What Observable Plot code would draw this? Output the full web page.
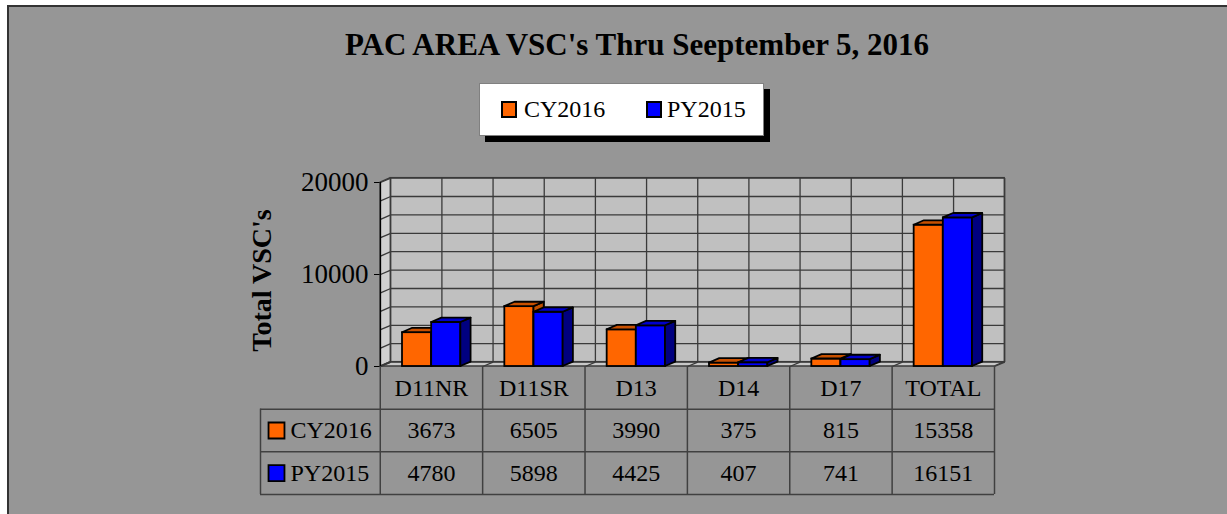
<!DOCTYPE html>
<html><head><meta charset="utf-8">
<script src="https://cdn.jsdelivr.net/npm/d3@7"></script>
<script src="https://cdn.jsdelivr.net/npm/@observablehq/plot@0.6"></script>
<style>
body{margin:0;background:#fff;width:1227px;height:514px;overflow:hidden;position:relative;font-family:"Liberation Serif","Times New Roman",serif}
#bg{position:absolute;left:7px;top:5px;width:1220px;height:509px;background:#969696;border-top:2px solid #333;border-left:2px solid #333;box-sizing:border-box}
#title{position:absolute;top:29px;left:637px;transform:translateX(-50%);white-space:nowrap;font-weight:bold;font-size:31px;line-height:31px;color:#000}
#legend{position:absolute;left:479px;top:83px;width:285px;height:53px;background:#fff;border:1px solid #808080;box-sizing:border-box;box-shadow:6px 6px 0 #000}
.sw{position:absolute;width:16px;height:17px;border:2px solid #000;box-sizing:border-box}
.lt{position:absolute;font-size:24px;line-height:24px;white-space:nowrap;color:#000}
svg{position:absolute;left:0}
</style></head><body>
<div id="bg"></div>
<div id="title"></div>
<div id="legend"></div>
<script>
const titleText = "PAC AREA VSC's Thru Seeptember 5, 2016";
const yAxisTitle = "Total VSC's";
const categories = ["D11NR", "D11SR", "D13", "D14", "D17", "TOTAL"];
const cy2016 = [3673, 6505, 3990, 375, 815, 15358];
const py2015 = [4780, 5898, 4425, 407, 741, 16151];
const seriesNames = ["CY2016", "PY2015"];
const seriesValues = [cy2016, py2015];
const yTicks = [0, 10000, 20000];
const yMax = 20000;
const gridStep = 2000;

// styles
const front = ["#ff6600", "#0000ff"];
const topC = ["#c85000", "#0000cc"];
const sideC = ["#c05000", "#000080"];
const DX = 0.1, DY = 480, GAP = 0.215, BW = 0.285, LABEL_COL = 1.17;
const n = categories.length;
const font = "'Liberation Serif', 'Times New Roman', serif";

document.getElementById("title").textContent = titleText;
const lg = document.getElementById("legend");
const swLeft = [21, 166], txLeft = [44, 187];
seriesNames.forEach((name, s) => {
  const sw = document.createElement("div");
  sw.className = "sw"; sw.style.left = swLeft[s] + "px"; sw.style.top = "17px"; sw.style.background = front[s];
  lg.appendChild(sw);
  const t = document.createElement("div");
  t.className = "lt"; t.style.left = txLeft[s] + "px"; t.style.top = "13px"; t.textContent = name;
  lg.appendChild(t);
});

const bars = [];
categories.forEach((c, i) => {
  seriesValues.forEach((vals, s) => {
    const x1 = i + GAP + s * BW;
    bars.push({id: c + "-" + s, s, v: vals[i], x1, x2: x1 + BW, y0: 0});
  });
});
const tops = bars.flatMap(b => [
  {id: b.id, s: b.s, y: b.v, x1: b.x1, x2: b.x2},
  {id: b.id, s: b.s, y: b.v + DY, x1: b.x1 + DX, x2: b.x2 + DX}]);
const sides = bars.flatMap(b => [
  {id: b.id, s: b.s, x: b.x2, y1: 0, y2: b.v},
  {id: b.id, s: b.s, x: b.x2 + DX, y1: DY, y2: b.v + DY}]);

const gridVals = d3.range(0, yMax + 1, gridStep);
const halfSteps = d3.range(0, n + 0.01, 0.5);
const wholeSteps = d3.range(0, n + 1);
const gridStyle = {stroke: "#3a3a3a", strokeWidth: 1.3};

const barMarks = [];
seriesNames.forEach((name, s) => {
  const sw = {stroke: "#000", strokeWidth: 1.8};
  barMarks.push(
    Plot.rect(bars.filter(b => b.s === s), {x1: "x1", x2: "x2", y1: "y0", y2: "v", fill: front[s], ...sw}),
    Plot.areaY(sides.filter(d => d.s === s), {x: "x", y1: "y1", y2: "y2", z: "id", fill: sideC[s], ...sw}),
    Plot.areaX(tops.filter(d => d.s === s), {y: "y", x1: "x1", x2: "x2", z: "id", fill: topC[s], ...sw})
  );
});

const chart = Plot.plot({
  width: 1227, height: 240,
  marginTop: 32, marginBottom: 24, marginLeft: 380, marginRight: 233,
  x: {domain: [0, n], axis: null},
  y: {domain: [0, yMax], ticks: yTicks, tickFormat: d3.format("d"), tickSize: 6, tickPadding: 6, label: null},
  style: {background: "transparent", color: "#000", fontFamily: font, fontSize: "27px", overflow: "visible"},
  marks: [
    Plot.rect([{x1: DX, x2: n + DX, y1: DY, y2: yMax + DY}], {x1: "x1", x2: "x2", y1: "y1", y2: "y2", fill: "#c0c0c0", ...gridStyle}),
    Plot.areaY([{x: 0, y1: 0, y2: yMax}, {x: DX, y1: DY, y2: yMax + DY}], {x: "x", y1: "y1", y2: "y2", fill: "#d0d0d0", ...gridStyle}),
    Plot.areaX([{y: 0, x1: 0, x2: n}, {y: DY, x1: DX, x2: n + DX}], {y: "y", x1: "x1", x2: "x2", fill: "#c8c8c8", ...gridStyle}),
    Plot.link(gridVals, {x1: () => DX, y1: d => d + DY, x2: () => n + DX, y2: d => d + DY, ...gridStyle}),
    Plot.link(gridVals, {x1: () => 0, y1: d => d, x2: () => DX, y2: d => d + DY, ...gridStyle}),
    Plot.link(halfSteps, {x1: d => d + DX, y1: () => DY, x2: d => d + DX, y2: () => yMax + DY, ...gridStyle}),
    Plot.link(wholeSteps, {x1: d => d, y1: () => 0, x2: d => d + DX, y2: () => DY, ...gridStyle}),
    Plot.ruleX([0], {y1: () => 0, y2: () => yMax, stroke: "#000", strokeWidth: 1.3}),
    ...barMarks,
    Plot.text([yAxisTitle], {text: d => d, frameAnchor: "left", textAnchor: "middle", dx: -118, dy: 6, rotate: -90, fontWeight: "bold", fontSize: 28, fill: "#000"})
  ]
});
chart.style.top = "150px";
document.body.appendChild(chart);

const lineStyle = {stroke: "#404040", strokeWidth: 1.5};
const tableMarks = [
  Plot.ruleX(wholeSteps, {y1: () => 0, y2: () => 3, ...lineStyle}),
  Plot.ruleX([-LABEL_COL], {y1: () => 1, y2: () => 3, ...lineStyle}),
  Plot.ruleY([1, 2, 3], {x1: () => -LABEL_COL, x2: () => n, ...lineStyle}),
  Plot.text(categories, {x: (d, i) => i + 0.5, y: () => 0.5, text: d => d, fontSize: 24, fill: "#000"})
];
seriesNames.forEach((name, s) => {
  tableMarks.push(
    Plot.text(seriesValues[s], {x: (d, i) => i + 0.5, y: () => s + 1.5, text: d => String(d), fontSize: 24, fill: "#000"}),
    Plot.dot([name], {x: () => -LABEL_COL, y: () => s + 1.5, dx: 16, symbol: "square", r: 9, fill: front[s], stroke: "#000", strokeWidth: 1.8}),
    Plot.text([name], {x: () => -LABEL_COL, y: () => s + 1.5, dx: 30, text: d => d, textAnchor: "start", fontSize: 24, fill: "#000"})
  );
});
const table = Plot.plot({
  width: 1227, height: 130,
  marginTop: 0, marginBottom: 2, marginLeft: 260, marginRight: 233,
  x: {domain: [-LABEL_COL, n], axis: null},
  y: {domain: [0, 3], reverse: true, axis: null},
  style: {background: "transparent", color: "#000", fontFamily: font, fontSize: "24px", overflow: "visible"},
  marks: tableMarks
});
table.style.top = "366px";
document.body.appendChild(table);
</script></body></html>
